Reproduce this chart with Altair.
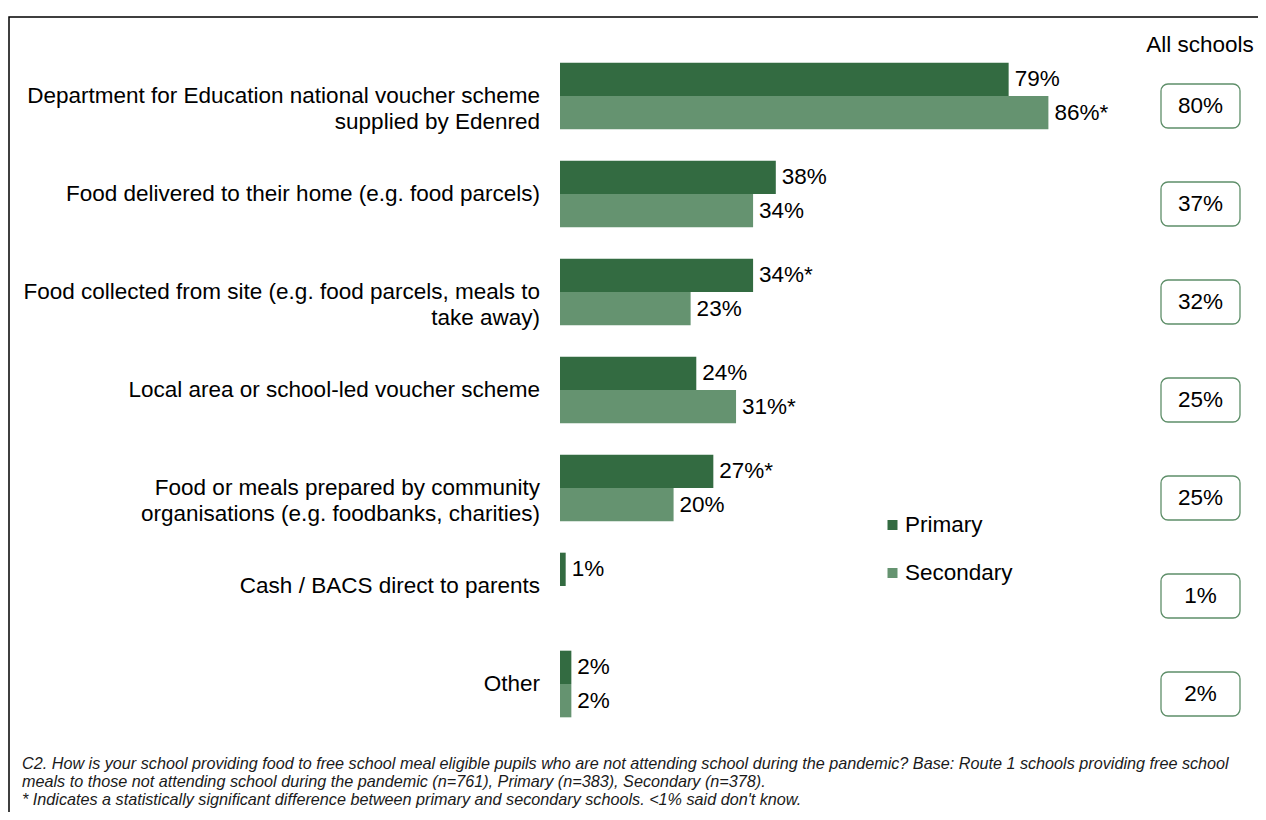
import altair as alt
import pandas as pd

categories = [
    "Department for Education national voucher scheme\nsupplied by Edenred",
    "Food delivered to their home (e.g. food parcels)",
    "Food collected from site (e.g. food parcels, meals to\ntake away)",
    "Local area or school-led voucher scheme",
    "Food or meals prepared by community\norganisations (e.g. foodbanks, charities)",
    "Cash / BACS direct to parents",
    "Other",
]
series = ["Primary", "Secondary"]
primary = [79, 38, 34, 24, 27, 1, 2]
secondary = [86, 34, 23, 31, 20, None, 2]
primary_sig = ["", "", "*", "", "*", "", ""]
secondary_sig = ["*", "", "", "*", "", "", ""]
all_schools = [80, 37, 32, 25, 25, 1, 2]
colors = ["#336B41", "#659370"]
footnote = (
    "C2. How is your school providing  food to free school meal eligible pupils who are not attending school during the pandemic? Base: Route 1 schools providing  free school\n"
    "meals to those not attending school during the pandemic (n=761), Primary (n=383), Secondary (n=378).\n"
    "* Indicates a statistically significant difference between primary and secondary schools.  <1% said don't know."
)

rows = []
for c, p, s, ps, ss in zip(categories, primary, secondary, primary_sig, secondary_sig):
    rows.append({"category": c, "series": "Primary", "value": p,
                 "label": f"{p}%{ps}" if p is not None else None})
    rows.append({"category": c, "series": "Secondary", "value": s,
                 "label": f"{s}%{ss}" if s is not None else None})
df = pd.DataFrame(rows)
df_cat = pd.DataFrame({"category": categories,
                       "all": [f"{v}%" for v in all_schools]})
df_leg = pd.DataFrame({"series": series})
df_note = pd.DataFrame({"t": [footnote]})
df_head = pd.DataFrame({"t": ["All schools"]})

FS = 22.5

y_enc = alt.Y("category:N", sort=categories, axis=None,
              scale=alt.Scale(paddingInner=0.32, paddingOuter=0.16))
x_enc = alt.X("value:Q", axis=None, scale=alt.Scale(domain=[0, 121.5]))
yoff = alt.YOffset("series:N", sort=series,
                   scale=alt.Scale(paddingInner=0, paddingOuter=0))
col = alt.Color("series:N", scale=alt.Scale(domain=series, range=colors), legend=None)

frame = alt.Chart(df_head).mark_rect(fillOpacity=0, stroke="#000000", strokeWidth=1.5).encode(
    x=alt.value(-551), x2=alt.value(900), y=alt.value(-30), y2=alt.value(1000))

base = alt.Chart(df).transform_filter("datum.value != null")
bars = base.mark_bar().encode(y=y_enc, x=x_enc, yOffset=yoff, color=col)
labels = base.mark_text(align="left", baseline="middle", dx=6, fontSize=FS, color="#000000").encode(
    y=y_enc, x=x_enc, yOffset=yoff, text="label:N")

cat_labels = alt.Chart(df_cat).mark_text(
    align="right", baseline="middle", lineBreak="\n", lineHeight=26, fontSize=FS, color="#000000"
).encode(y=y_enc, x=alt.value(-20), text="category:N")

boxes = alt.Chart(df_cat).mark_bar(
    height=44, cornerRadius=7, fill="white", stroke="#5E8E69", strokeWidth=1.3, yOffset=10
).encode(y=y_enc, x=alt.value(601), x2=alt.value(680))
box_text = alt.Chart(df_cat).mark_text(fontSize=FS, baseline="middle", yOffset=10, color="#000000").encode(
    y=y_enc, x=alt.value(640.5), text="all:N")

head = alt.Chart(df_head).mark_text(fontSize=FS, baseline="middle", color="#000000").encode(
    x=alt.value(640), y=alt.value(-2), text="t:N")

legend_layers = []
for s, c, yv in zip(series, colors, [478, 526]):
    d = alt.Chart(df_leg).transform_filter(alt.datum.series == s)
    legend_layers.append(d.mark_square(size=100, opacity=1, color=c).encode(
        x=alt.value(332.5), y=alt.value(yv)))
    legend_layers.append(d.mark_text(align="left", baseline="middle", fontSize=FS, color="#000000").encode(
        x=alt.value(345), y=alt.value(yv), text="series:N"))

note = alt.Chart(df_note).mark_text(
    align="left", baseline="top", lineBreak="\n", lineHeight=18, fontSize=16.2,
    fontStyle="italic", color="#1a1a1a"
).encode(x=alt.value(-538), y=alt.value(709), text="t:N")

chart = alt.layer(frame, bars, labels, cat_labels, boxes, box_text, head, *legend_layers, note).properties(
    width=690, height=686,
    autosize=alt.AutoSizeParams(type="none"),
    padding={"left": 552, "top": 39, "right": 8, "bottom": 79},
).configure(font="Liberation Sans").configure_view(stroke=None)

chart.save("out.html", embed_options={"renderer": "svg", "actions": False})
